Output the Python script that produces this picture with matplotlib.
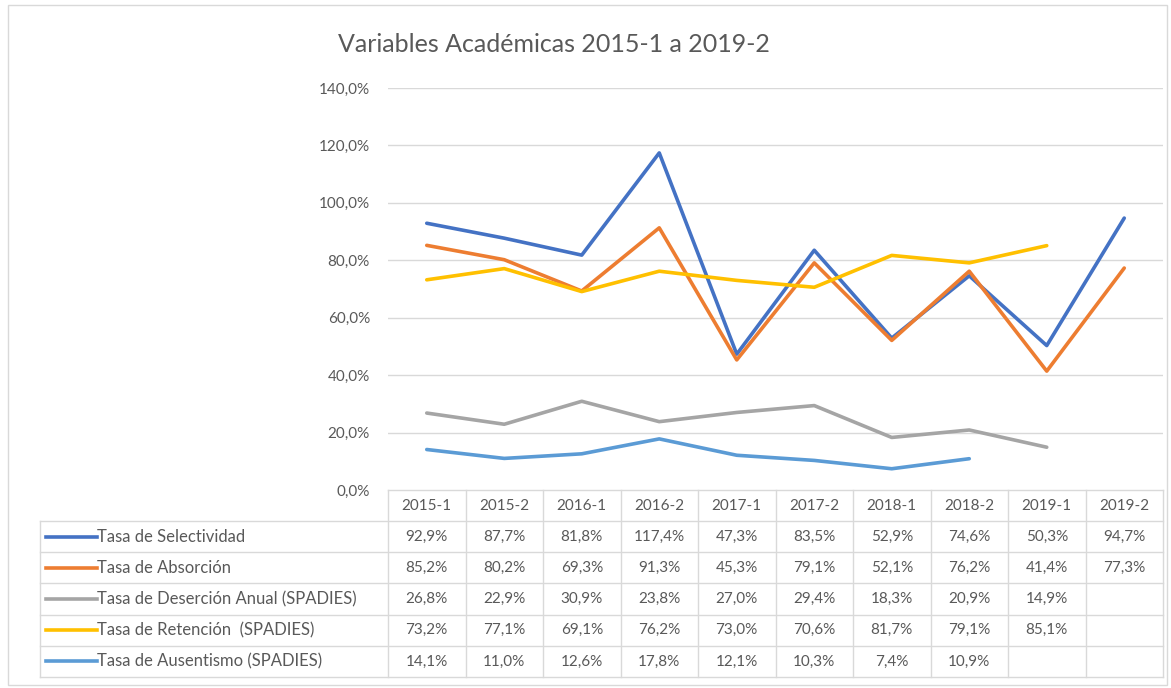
import numpy as np
import matplotlib
matplotlib.use("Agg")
import matplotlib.pyplot as plt
from matplotlib.patches import Rectangle
from matplotlib.lines import Line2D

W, H = 1171, 688

periods = ["2015-1", "2015-2", "2016-1", "2016-2", "2017-1",
           "2017-2", "2018-1", "2018-2", "2019-1", "2019-2"]
nan = np.nan
selectividad = [92.9, 87.7, 81.8, 117.4, 47.3, 83.5, 52.9, 74.6, 50.3, 94.7]
absorcion = [85.2, 80.2, 69.3, 91.3, 45.3, 79.1, 52.1, 76.2, 41.4, 77.3]
desercion = [26.8, 22.9, 30.9, 23.8, 27.0, 29.4, 18.3, 20.9, 14.9, nan]
retencion = [73.2, 77.1, 69.1, 76.2, 73.0, 70.6, 81.7, 79.1, 85.1, nan]
ausentismo = [14.1, 11.0, 12.6, 17.8, 12.1, 10.3, 7.4, 10.9, nan, nan]

series = [
    ("Tasa de Selectividad", selectividad, "#4472C4"),
    ("Tasa de Absorción", absorcion, "#ED7D31"),
    ("Tasa de Deserción Anual (SPADIES)", desercion, "#A5A5A5"),
    ("Tasa de Retención  (SPADIES)", retencion, "#FFC000"),
    ("Tasa de Ausentismo (SPADIES)", ausentismo, "#5B9BD5"),
]
yticks = [0, 20, 40, 60, 80, 100, 120, 140]

plt.rcParams["font.family"] = ["Lato", "DejaVu Sans"]
txt = "#595959"
grid = "#D9D9D9"


def fx(x):
    return x / W


def fy(y):
    return 1 - y / H


fig = plt.figure(figsize=(W / 100, H / 100), dpi=100)

# pixel geometry of plot area / table
x0, x1 = 388, 1163
ytop, ybot = 88, 490
ax = fig.add_axes([fx(x0), fy(ybot), fx(x1) - fx(x0), fy(ytop) - fy(ybot)])
ax.set_xlim(-0.5, len(periods) - 0.5)
ax.set_ylim(0, 140)
for s in ax.spines.values():
    s.set_visible(False)
ax.set_xticks([])
ax.set_yticks(yticks)
ax.set_yticklabels([f"{v:.1f}%".replace(".", ",") for v in yticks],
                   color=txt, fontsize=11)
ax.tick_params(axis="y", length=0, pad=13)
for v in yticks[1:]:
    ax.axhline(v, color=grid, lw=1, zorder=0)

x = np.arange(len(periods))
for name, vals, col in series:
    ax.plot(x, vals, color=col, lw=2.6, solid_capstyle="round",
            solid_joinstyle="round", zorder=3)

fig.text(fx(554), fy(45), "Variables Académicas 2015-1 a 2019-2",
         ha="center", va="center", fontsize=18, color=txt)

# data table
cw = (x1 - x0) / len(periods)
row_h = 31.2
hdr_top, hdr_bot = 490, 521
rows_y = [hdr_bot + i * row_h for i in range(len(series) + 1)]
lx = 40
tlines = dict(color=grid, lw=1, transform=fig.transFigure)

fig.add_artist(Line2D([fx(x0), fx(x1)], [fy(hdr_top)] * 2, **tlines))
for yy in rows_y:
    fig.add_artist(Line2D([fx(lx), fx(x1)], [fy(yy)] * 2, **tlines))
fig.add_artist(Line2D([fx(lx)] * 2, [fy(hdr_bot), fy(rows_y[-1])], **tlines))
for k in range(len(periods) + 1):
    xx = x0 + k * cw
    fig.add_artist(Line2D([fx(xx)] * 2, [fy(hdr_top), fy(rows_y[-1])], **tlines))

for i, p in enumerate(periods):
    fig.text(fx(x0 + (i + 0.5) * cw), fy((hdr_top + hdr_bot) / 2), p,
             ha="center", va="center", fontsize=11, color=txt)

for r, (name, vals, col) in enumerate(series):
    yc = fy(rows_y[r] + row_h / 2)
    fig.add_artist(Line2D([fx(46), fx(97)], [yc, yc], color=col, lw=2.6,
                          transform=fig.transFigure))
    fig.text(fx(97), yc, name, ha="left", va="center", fontsize=12, color=txt)
    for i, v in enumerate(vals):
        if np.isnan(v):
            continue
        fig.text(fx(x0 + (i + 0.5) * cw), yc, f"{v:.1f}%".replace(".", ","),
                 ha="center", va="center", fontsize=11, color=txt)

# outer chart border
fig.add_artist(Rectangle((fx(8), fy(685)), fx(1167) - fx(8), fy(5) - fy(685),
                         fill=False, edgecolor=grid, lw=1,
                         transform=fig.transFigure))

fig.savefig("out.png", dpi=100)
